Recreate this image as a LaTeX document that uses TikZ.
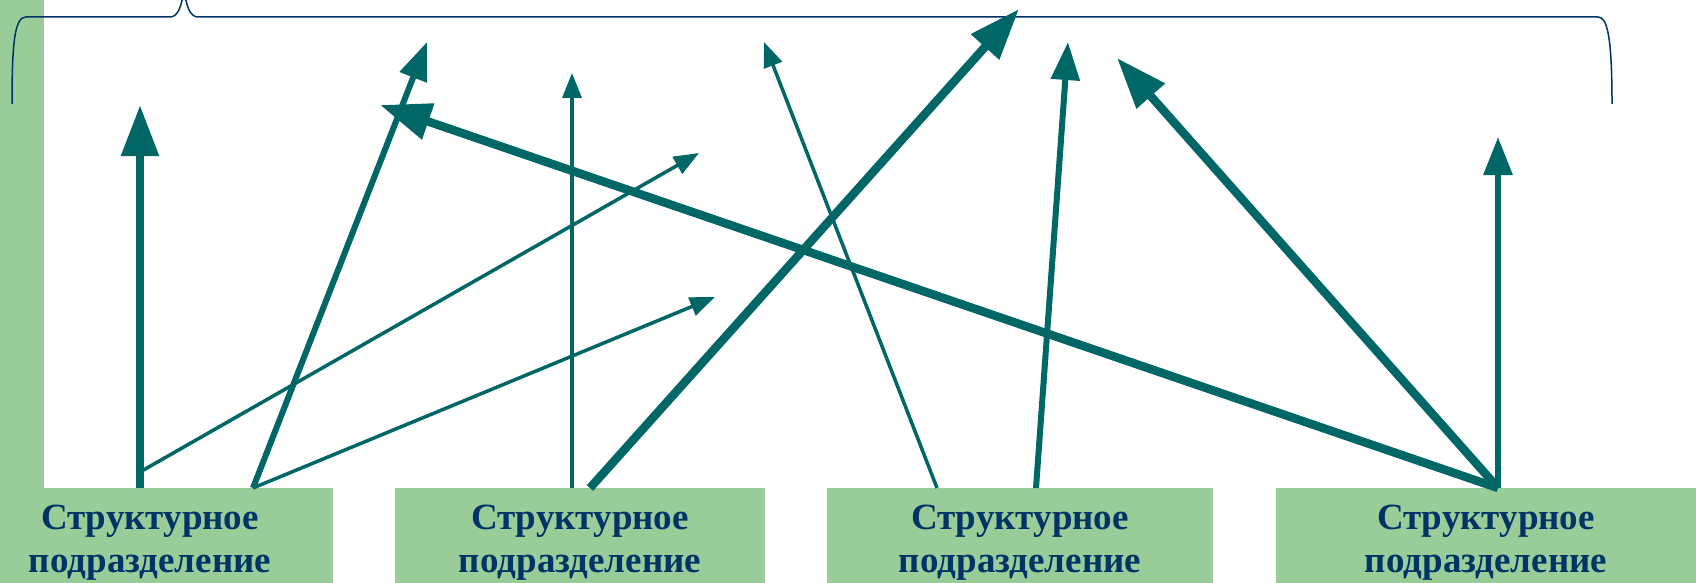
\documentclass[tikz,border=0pt]{standalone}
\usepackage{fontspec}
\setmainfont{Liberation Serif}
\usetikzlibrary{arrows.meta}

\definecolor{unitgreen}{RGB}{153,204,153}
\definecolor{linkteal}{RGB}{0,102,102}
\definecolor{bracenavy}{RGB}{0,51,102}

\begin{document}
\begin{tikzpicture}[x=1pt,y=-1pt,
	unit/.style={shape=rectangle,fill=unitgreen,anchor=north,inner ysep=17pt,inner xsep=0pt,align=center,text=bracenavy,font=\fontsize{37}{43}\selectfont\bfseries},
	thinlink/.style={color=linkteal,line width=3.5pt,-{Triangle[length=25pt,width=19pt]}},
	midlink/.style={color=linkteal,line width=6pt,-{Triangle[length=38pt,width=28pt]}},
	thicklink/.style={color=linkteal,line width=8.5pt,-{Triangle[length=51pt,width=36pt]}}]
	
	\useasboundingbox (0, 0) rectangle (1696, 583);
	
	% green bar on the left
	\fill[unitgreen] (0, 0) rectangle (44, 583);
	
	% brace
	\draw[bracenavy,line width=1.5pt] (12, 104) .. controls (12, 40) and (15, 17) .. (26, 17) -- (170, 17)
		.. controls (178, 17) and (182, 6) .. (184, -12)
		.. controls (186, 6) and (190, 17) .. (198, 17) -- (1598, 17)
		.. controls (1607, 17) and (1612, 35) .. (1612, 104);
	
	\node[unit,minimum width=366pt] (u1) at (150, 488)     {Структурное\\подразделение};
	\node[unit,minimum width=370pt] (u2) at (580, 488)     {Структурное\\подразделение};
	\node[unit,minimum width=386pt] (u3) at (1020, 488)     {Структурное\\подразделение};
	\node[unit,minimum width=421pt] (u4) at (1486, 488)     {Структурное\\подразделение};
	
	% arrow tips
	\coordinate (a) at (140, 105);
	\coordinate (b) at (427, 42);
	\coordinate (c) at (699, 153);
	\coordinate (d) at (715, 297);
	\coordinate (e) at (572, 73);
	\coordinate (f) at (1019, 9);
	\coordinate (g) at (764, 42);
	\coordinate (h) at (1068, 42);
	\coordinate (i) at (1117, 58);
	\coordinate (j) at (380, 105);
	\coordinate (k) at (1498, 137);
	\coordinate (ca) at (140, 472);
	
	% arrow feet on the units
	\coordinate (u1a) at (140, 488);
	\coordinate (u1b) at (253, 488);
	\coordinate (u2a) at (572, 488);
	\coordinate (u2b) at (590, 488);
	\coordinate (u3a) at (937, 488);
	\coordinate (u3b) at (1036, 488);
	\coordinate (u4a) at (1498, 488);
	
	\path (u1a) edge[thicklink] (a);
	\path (u1b) edge[midlink] (b);
	\path (ca) edge[thinlink] (c);
	\path (u1b) edge[thinlink] (d);
	\path (u2a) edge[thinlink] (e);
	\path (u2b) edge[thicklink] (f);
	\path (u3a) edge[thinlink] (g);
	\path (u3b) edge[midlink] (h);
	\path (u4a) edge[thicklink] (i);
	\path (u4a) edge[thicklink] (j);
	\path (u4a) edge[midlink] (k);
	
\end{tikzpicture}
\end{document}
